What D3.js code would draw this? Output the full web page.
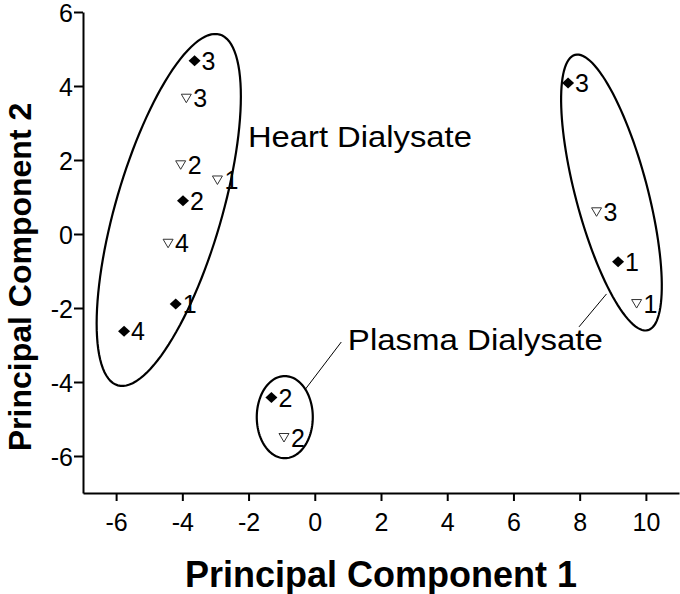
<!DOCTYPE html>
<html><head><meta charset="utf-8">
<script src="https://cdn.jsdelivr.net/npm/d3@7"></script>
<style>body{margin:0;background:#fff}text{font-family:"Liberation Sans",Arial,sans-serif;fill:#000}</style>
</head><body>
<svg id="c" width="680" height="594"></svg>
<script>
// ---- data ----
const xTicks = [-6, -4, -2, 0, 2, 4, 6, 8, 10];
const yTicks = [-6, -4, -2, 0, 2, 4, 6];
const xMinor = [-7, -5, -3, -1, 1, 3, 5, 7, 9, 11];
const yMinor = [-7, -5, -3, -1, 1, 3, 5];
// filled diamond series
const diamondX = [-3.63, -3.98, -4.20, -5.76, 7.65, 9.16, -1.31];
const diamondY = [4.68, 0.90, -1.89, -2.63, 4.08, -0.75, -4.42];
const diamondLabel = ["3", "2", "1", "4", "3", "1", "2"];
// open triangle series
const triX = [-3.88, -4.05, -2.94, -4.43, 8.51, 9.72, -0.93];
const triY = [3.67, 1.87, 1.46, -0.25, 0.60, -1.88, -5.50];
const triLabel = ["3", "2", "1", "4", "3", "1", "2"];
// annotation ellipses: centre, semi-axis vectors (data units)
const ellipseCx = [-4.41, 8.96, -0.906];
const ellipseCy = [0.65, 1.12, -4.95];
const ellipseU = [[1.54, 4.74], [-1.10, 3.72], [0, 1.11]];
const ellipseV = [[1.54, -0.40], [1.05, 0.25], [0.846, 0]];
const groupNames = ["Heart Dialysate", "Plasma Dialysate"];

// ---- layout ----
const svg = d3.select("#c");
const x = d3.scaleLinear().domain([-7, 11]).range([83, 679]);
const y = d3.scaleLinear().domain([-7, 6]).range([493, 12]);
const fmt = d => String(d);

// axes
const gx = svg.append("g").attr("transform", `translate(0,${y(-7)})`);
gx.call(d3.axisBottom(x).tickValues(xMinor).tickSize(4).tickSizeOuter(0).tickFormat(""));
gx.call(d3.axisBottom(x).tickValues(xTicks).tickSize(8).tickSizeOuter(0).tickFormat(fmt));
gx.selectAll("text").attr("y", 38).attr("dy", 0).style("font-size", "25px");

const gy = svg.append("g").attr("transform", `translate(${x(-7)},0)`);
gy.call(d3.axisLeft(y).tickValues(yMinor).tickSize(5).tickSizeOuter(0).tickFormat(""));
gy.call(d3.axisLeft(y).tickValues(yTicks).tickSize(9).tickSizeOuter(0).tickFormat(fmt));
gy.selectAll("text").attr("x", -10).attr("dy", "0.36em").style("font-size", "25px");

svg.selectAll(".domain").attr("stroke", "#000").attr("stroke-width", 2);
svg.selectAll(".tick line").attr("stroke", "#000").attr("stroke-width", 2);

// axis titles
svg.append("text").attr("x", 381).attr("y", 587).attr("text-anchor", "middle")
  .style("font-size", "36px").style("font-weight", "bold").text("Principal Component 1");
svg.append("text").attr("transform", "translate(31,277) rotate(-90)").attr("text-anchor", "middle")
  .style("font-size", "32px").style("font-weight", "bold").text("Principal Component 2");

// ellipses
const line = d3.line().curve(d3.curveLinearClosed);
ellipseCx.forEach((cx, i) => {
  const pts = d3.range(0, 120).map(k => {
    const t = k / 120 * 2 * Math.PI;
    const dx = cx + ellipseU[i][0] * Math.sin(t) + ellipseV[i][0] * Math.cos(t);
    const dy = ellipseCy[i] + ellipseU[i][1] * Math.sin(t) + ellipseV[i][1] * Math.cos(t);
    return [x(dx), y(dy)];
  });
  svg.append("path").attr("d", line(pts)).attr("fill", "none").attr("stroke", "#000").attr("stroke-width", 2.2);
});

// leader lines
const leaders = [[0.80, -2.92, -0.28, -4.19], [8.81, -1.62, 7.98, -2.51]];
leaders.forEach(l => svg.append("line").attr("x1", x(l[0])).attr("y1", y(l[1]))
  .attr("x2", x(l[2])).attr("y2", y(l[3])).attr("stroke", "#000").attr("stroke-width", 1));

// group labels
svg.append("text").attr("x", x(-2.02)).attr("y", y(2.35)).style("font-size", "30px")
  .attr("textLength", 224).attr("lengthAdjust", "spacingAndGlyphs").text(groupNames[0]);
svg.append("text").attr("x", x(1.0)).attr("y", y(-3.14)).style("font-size", "30px")
  .attr("textLength", 255).attr("lengthAdjust", "spacingAndGlyphs").text(groupNames[1]);

// diamonds
diamondX.forEach((dx, i) => {
  const px = x(dx), py = y(diamondY[i]);
  svg.append("path").attr("d", `M${px},${py - 5.5}L${px + 6},${py}L${px},${py + 5.5}L${px - 6},${py}Z`).attr("fill", "#000");
  svg.append("text").attr("x", px + 7).attr("y", py + 9).style("font-size", "25px").text(diamondLabel[i]);
});
// triangles
triX.forEach((tx, i) => {
  const px = x(tx), py = y(triY[i]);
  svg.append("path").attr("d", `M${px - 5},${py - 4}L${px + 5},${py - 4}L${px},${py + 4.5}Z`)
    .attr("fill", "#fff").attr("stroke", "#333").attr("stroke-width", 1);
  svg.append("text").attr("x", px + 7).attr("y", py + 9).style("font-size", "25px").text(triLabel[i]);
});
</script>
</body></html>
